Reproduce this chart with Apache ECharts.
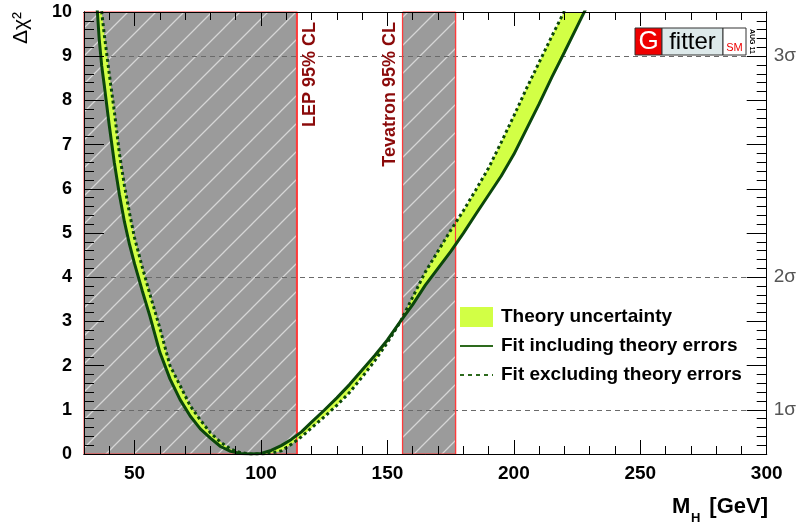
<!DOCTYPE html>
<html>
<head>
<meta charset="utf-8">
<script src="https://cdn.jsdelivr.net/npm/echarts@6/dist/echarts.min.js"></script>
<style>
html,body{margin:0;padding:0;background:#fff;}
#chart{width:799px;height:524px;}
</style>
</head>
<body>
<div id="chart"></div>
<script>
// ---- data ----
const massGeV = [34,35,36,37,38,40,42,44,46,48,50,53,56,60,64,68,72,76,80,84,88,92,96,100,104,108,112,116,120,125,130,135,140,145,150,155,160,165,170,175,180,185,190,195,200,205,210,215,220,225,230];
const fitWithTheory = [10.9,10.25,9.4,8.78,8.35,7.43,6.59,5.87,5.25,4.74,4.3,3.7,3.13,2.3,1.7,1.23,0.86,0.57,0.36,0.17,0.06,0.01,0,0.01,0.08,0.19,0.33,0.5,0.72,0.99,1.27,1.57,1.9,2.23,2.58,2.99,3.38,3.82,4.2,4.58,4.99,5.43,5.86,6.29,6.78,7.35,7.92,8.52,9.09,9.67,10.25];
const fitWithoutTheory = [11.5,10.9,10.45,10.0,9.5,8.6,7.75,6.8,6.07,5.45,4.89,4.24,3.63,2.85,2.0,1.55,1.09,0.77,0.48,0.27,0.11,0.03,0,0,0.02,0.07,0.22,0.39,0.59,0.84,1.1,1.39,1.74,2.11,2.52,2.98,3.55,4.12,4.59,5.06,5.5,5.98,6.47,7.05,7.65,8.27,8.86,9.45,10.02,10.6,11.2];
const lepRange = [30, 114.4];
const tevatronRange = [156, 177];
const limitLines = [114.4, 156, 177];
const sigmaLevels = [1, 4, 9];
const sigmaLabels = ['1σ', '2σ', '3σ'];
const xMajorTicks = [50, 100, 150, 200, 250, 300];
const yMajorTicks = [0,1,2,3,4,5,6,7,8,9,10];
const legendLabels = ['Theory uncertainty', 'Fit including theory errors', 'Fit excluding theory errors'];

// ---- derived ----
const bandRows = massGeV.map((m, i) => [m, Math.min(fitWithTheory[i], fitWithoutTheory[i]), Math.max(fitWithTheory[i], fitWithoutTheory[i])]);
const solidPts = massGeV.map((m, i) => [m, fitWithTheory[i]]);
const dashedPts = massGeV.map((m, i) => [m, fitWithoutTheory[i]]);
const Y_MIN = yMajorTicks[0], Y_MAX = yMajorTicks[yMajorTicks.length - 1];

// hatch pattern
const S = 28;
const pc = document.createElement('canvas');
pc.width = S; pc.height = S;
const ctx = pc.getContext('2d');
ctx.fillStyle = '#9b9b9b'; ctx.fillRect(0, 0, S, S);
ctx.strokeStyle = '#d6d6d6'; ctx.lineWidth = 1.3;
ctx.beginPath();
ctx.moveTo(-2, S + 2); ctx.lineTo(S + 2, -2);
ctx.moveTo(-2, 2); ctx.lineTo(2, -2);
ctx.moveTo(S - 2, S + 2); ctx.lineTo(S + 2, S - 2);
ctx.stroke();

const FONT = '"Liberation Sans", Arial, Helvetica, sans-serif';
const GREEN = '#0b470b';
const YELLOW = '#d2ff45';
const RED = '#ff3b3b';

const chart = echarts.init(document.getElementById('chart'), null, {renderer: 'canvas'});

function xAx(pos, major) {
  const a = {type: 'value', min: 30, max: 300, position: pos, zlevel: 1, z: 10,
    axisLine: {show: true, onZero: false, lineStyle: {color: '#000', width: 1}},
    splitLine: {show: false}, axisLabel: {show: false}};
  if (major) {
    a.axisTick = {show: true, inside: true, length: 14, customValues: xMajorTicks, lineStyle: {color: '#000'}};
    if (pos === 'bottom') a.axisLabel = {show: true, customValues: xMajorTicks, margin: 10, color: '#000', fontSize: 19, fontWeight: 'bold', fontFamily: FONT};
  } else {
    a.interval = 10;
    a.axisTick = {show: true, inside: true, length: 8, lineStyle: {color: '#000'}};
  }
  return a;
}
function yAx(pos, major) {
  const a = {type: 'value', min: Y_MIN, max: Y_MAX, position: pos, zlevel: 1, z: 10,
    axisLine: {show: true, onZero: false, lineStyle: {color: '#000', width: 1}},
    splitLine: {show: false}, axisLabel: {show: false}};
  if (major) {
    a.interval = 1;
    a.axisTick = {show: true, inside: true, length: 20, lineStyle: {color: '#000'}};
    if (pos === 'left') a.axisLabel = {show: true, customValues: yMajorTicks, margin: 12, color: '#000', fontSize: 18, fontWeight: 'bold', fontFamily: FONT};
    else a.axisLabel = {show: true, customValues: sigmaLevels, margin: 7, color: '#555', fontSize: 19, fontFamily: FONT, formatter: v => sigmaLabels[sigmaLevels.indexOf(v)]};
  } else {
    a.interval = 0.2;
    a.axisTick = {show: true, inside: true, length: 10, lineStyle: {color: '#000'}};
  }
  return a;
}

const option = {
  animation: false,
  grid: {left: 84, right: 31, top: 12, bottom: 70, show: false},
  xAxis: [xAx('bottom', false), xAx('bottom', true), xAx('top', false), xAx('top', true)],
  yAxis: [yAx('left', false), yAx('left', true), yAx('right', false), yAx('right', true)],
  series: [
    {name: 'excluded', type: 'line', data: [], symbol: 'none', silent: true,
      markArea: {silent: true, z: 1, itemStyle: {color: {image: pc, repeat: 'repeat'}, opacity: 1, borderWidth: 1, borderColor: RED},
        data: [[{xAxis: lepRange[0]}, {xAxis: lepRange[1]}], [{xAxis: tevatronRange[0]}, {xAxis: tevatronRange[1]}]]},
      markLine: {silent: true, z: 2, symbol: ['none', 'none'], label: {show: false}, lineStyle: {type: [5, 4], color: '#6a6a6a', width: 1},
        data: sigmaLevels.map(v => ({yAxis: v}))}},
    {name: legendLabels[0], type: 'custom', data: bandRows, clip: true, silent: true, z: 3,
      renderItem: (params, api) => {
        if (params.dataIndex !== 0) return null;
        const upper = bandRows.map(r => api.coord([r[0], r[2]]));
        const lower = bandRows.map(r => api.coord([r[0], r[1]])).reverse();
        return {type: 'polygon', shape: {points: upper.concat(lower)}, style: {fill: YELLOW, stroke: null}};
      }},
    {name: 'limits', type: 'custom', data: limitLines.map(v => [v, Y_MIN]), silent: true, zlevel: 1, z: 1,
      renderItem: (params, api) => {
        const a = api.coord([api.value(0), Y_MIN]);
        const b = api.coord([api.value(0), Y_MAX]);
        const x = Math.round(a[0]) - 0.5;
        return {type: 'line', shape: {x1: x, y1: a[1], x2: x, y2: b[1]}, style: {stroke: RED, lineWidth: 1.2}};
      }},
    {name: legendLabels[1], type: 'line', data: solidPts, symbol: 'none', silent: true, lineStyle: {color: GREEN, width: 3}, zlevel: 1, z: 5},
    {name: legendLabels[2], type: 'line', data: dashedPts, symbol: 'none', silent: true, lineStyle: {color: GREEN, width: 3, type: [3, 3]}, zlevel: 1, z: 6}
  ]
};
chart.setOption(option);

// ---- annotations, legend and logo drawn as zrender text/shapes ----
const zr = chart.getZr();
const G = echarts.graphic;
function txt(x, y, text, font, fill, align, rotation) {
  zr.add(new G.Text({x: x, y: y, rotation: rotation || 0, zlevel: 2, z: 100,
    style: {text: text, font: font, fill: fill, align: align, verticalAlign: 'middle'}}));
}
function rect(x, y, w, h, fill, stroke) {
  zr.add(new G.Rect({shape: {x: x, y: y, width: w, height: h}, zlevel: 2, z: 99,
    style: {fill: fill, stroke: stroke || null, lineWidth: 1}}));
}
function seg(x1, y1, x2, y2, stroke, dash) {
  zr.add(new G.Line({shape: {x1: x1, y1: y1, x2: x2, y2: y2}, zlevel: 2, z: 99,
    style: {stroke: stroke, lineWidth: 2, lineDash: dash || null}}));
}
// axis titles
txt(21, 12, 'Δχ²', '21px ' + FONT, '#000', 'right', Math.PI / 2);
txt(672, 507, 'M', 'bold 22px ' + FONT, '#000', 'left');
txt(691, 518, 'H', 'bold 13px ' + FONT, '#000', 'left');
txt(768, 507, '[GeV]', 'bold 22px ' + FONT, '#000', 'right');
// exclusion labels
txt(310, 22, 'LEP 95% CL', 'bold 18px ' + FONT, '#8b0a0a', 'right', Math.PI / 2);
txt(390, 22, 'Tevatron 95% CL', 'bold 18px ' + FONT, '#8b0a0a', 'right', Math.PI / 2);
// legend
rect(460, 307, 33, 20, YELLOW);
txt(501, 317, legendLabels[0], 'bold 19px ' + FONT, '#000', 'left');
seg(460, 346, 493, 346, '#2d6a1d');
txt(501, 346, legendLabels[1], 'bold 19px ' + FONT, '#000', 'left');
seg(460, 375, 493, 375, '#2d6a1d', [4, 4]);
txt(501, 375, legendLabels[2], 'bold 19px ' + FONT, '#000', 'left');
// Gfitter logo
rect(635, 28, 27, 27, '#ee0000', '#333');
txt(648.5, 42, 'G', '26px ' + FONT, '#fff', 'center');
rect(662, 28, 61, 27, '#dde9ea', '#333');
txt(692.5, 42, 'fitter', '24px ' + FONT, '#000', 'center');
rect(723, 28, 23, 27, '#fff', '#333');
txt(734.5, 48, 'SM', '11px ' + FONT, '#ee0000', 'center');
txt(751.5, 29, 'AUG 11', 'bold 7px ' + FONT, '#000', 'left', -Math.PI / 2);
</script>
</body>
</html>
